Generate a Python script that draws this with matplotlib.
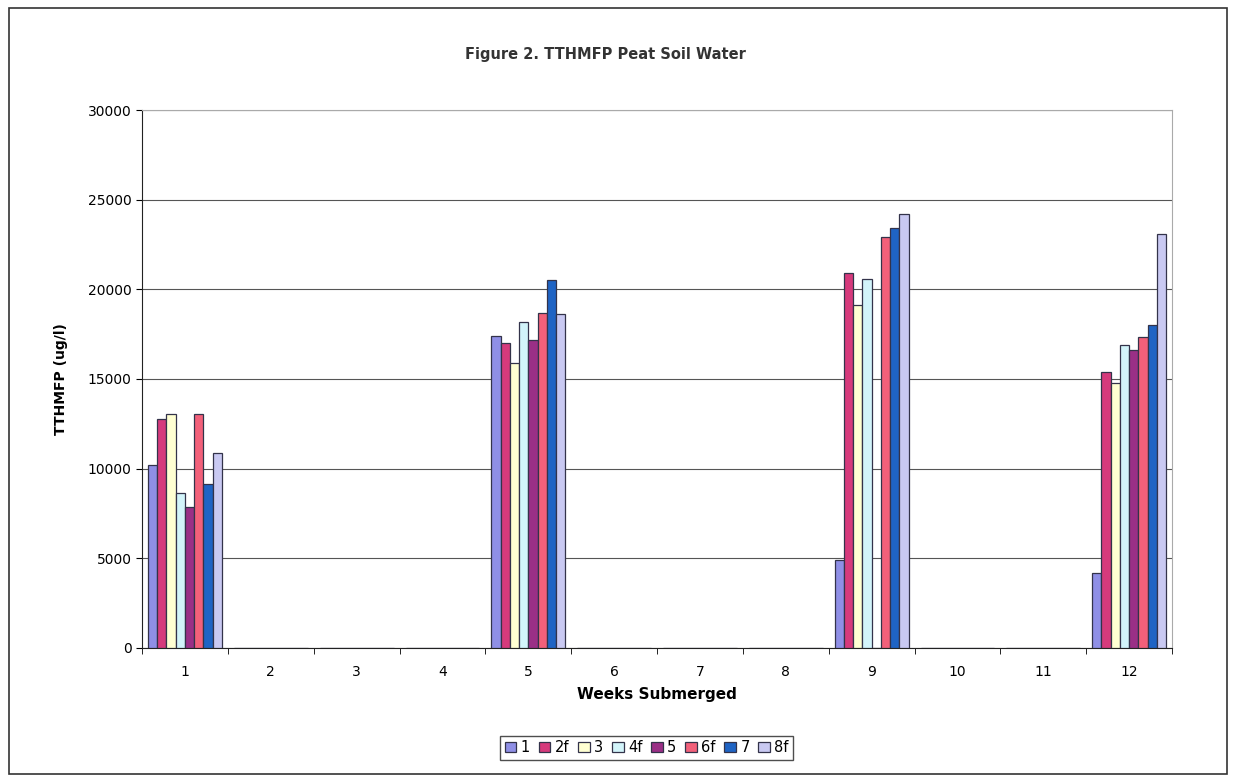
import numpy as np
import matplotlib.pyplot as plt
from matplotlib.patches import Rectangle

weeks = ["1", "2", "3", "4", "5", "6", "7", "8", "9", "10", "11", "12"]
series_names = ["1", "2f", "3", "4f", "5", "6f", "7", "8f"]

# values per series, one per week (weeks without samples are 0)
s1 = [10200, 0, 0, 0, 17400, 0, 0, 0, 4900, 0, 0, 4200]
s2f = [12750, 0, 0, 0, 17000, 0, 0, 0, 20900, 0, 0, 15400]
s3 = [13050, 0, 0, 0, 15900, 0, 0, 0, 19100, 0, 0, 14800]
s4f = [8650, 0, 0, 0, 18200, 0, 0, 0, 20600, 0, 0, 16900]
s5 = [7850, 0, 0, 0, 17200, 0, 0, 0, 0, 0, 0, 16600]
s6f = [13050, 0, 0, 0, 18700, 0, 0, 0, 22900, 0, 0, 17350]
s7 = [9150, 0, 0, 0, 20500, 0, 0, 0, 23400, 0, 0, 18000]
s8f = [10870, 0, 0, 0, 18600, 0, 0, 0, 24200, 0, 0, 23100]

all_series = [s1, s2f, s3, s4f, s5, s6f, s7, s8f]
colors = ["#8f8fe6", "#d63a7c", "#ffffd2", "#d2f4fa", "#9a2f86", "#f2607a", "#1f64c4", "#c9c9f2"]

fig = plt.figure(figsize=(12.36, 7.82), dpi=100)
fig.patches.append(Rectangle((0.007, 0.01), 0.986, 0.98, transform=fig.transFigure,
                             fill=False, edgecolor="#333333", linewidth=1.2))
ax = fig.add_axes([0.1149, 0.1714, 0.8334, 0.6879])

x = np.arange(len(weeks))
width = 0.86 / len(all_series)
for i, vals in enumerate(all_series):
    pos = x - 0.43 + width * (i + 0.5)
    ax.bar(pos, vals, width=width, color=colors[i], edgecolor="#33334a",
           linewidth=0.9, label=series_names[i], zorder=3)

ax.set_xlim(-0.5, len(weeks) - 0.5)
ax.set_ylim(0, 30000)
ax.set_yticks(np.arange(0, 30001, 5000))
ax.set_xticks(x)
ax.set_xticklabels(weeks, fontsize=10)
ax.set_xticks(np.arange(-0.5, len(weeks), 1), minor=True)
ax.tick_params(axis="x", which="major", length=0, pad=12)
ax.tick_params(axis="x", which="minor", length=4, direction="out")
ax.tick_params(axis="y", labelsize=10, length=4)
ax.yaxis.grid(True, color="#555555", linewidth=0.8, zorder=0)

for side in ["top", "right"]:
    ax.spines[side].set_color("#aaaaaa")
    ax.spines[side].set_linewidth(0.8)
for side in ["left", "bottom"]:
    ax.spines[side].set_color("#222222")

fig.text(0.49, 0.93, "Figure 2. TTHMFP Peat Soil Water", fontsize=10.5,
         fontweight="bold", color="#333333", ha="center", va="center")
ax.set_ylabel("TTHMFP (ug/l)", fontsize=10, fontweight="bold", labelpad=14)
ax.set_xlabel("Weeks Submerged", fontsize=11, fontweight="bold", labelpad=6)

ax.legend(loc="upper center", bbox_to_anchor=(0.49, -0.15), ncol=8, fontsize=10.5,
          frameon=True, fancybox=False, edgecolor="#222222", handlelength=0.8,
          handletextpad=0.3, columnspacing=0.6, borderpad=0.3)

fig.savefig("out.png", dpi=100)
